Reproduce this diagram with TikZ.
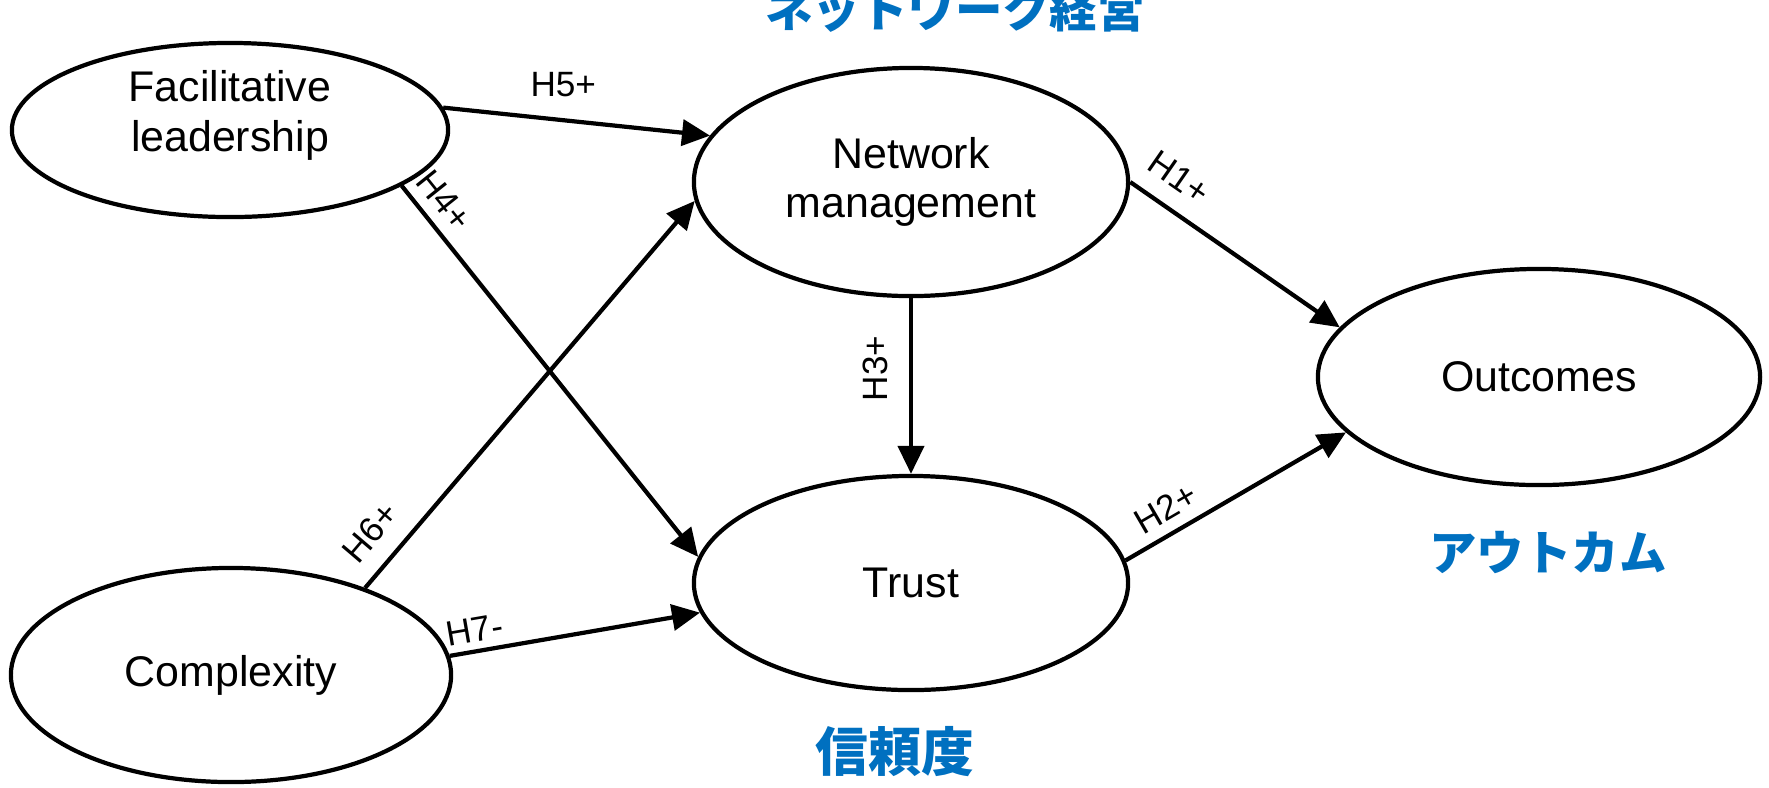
\documentclass[tikz,border=0pt]{standalone}
\usepackage{fontspec}
\setmainfont{Liberation Sans}
\newfontfamily\jpfont{Noto Sans CJK JP}
\usepackage{xcolor}
\usepackage{tikz}
\usetikzlibrary{shapes.geometric}
\usetikzlibrary{arrows.meta}
\definecolor{jpblue}{RGB}{0,112,192}
\tikzset{latent/.style={draw, ellipse, line width=1.2pt, align=center, inner sep=0pt, font=\fontsize{12.2}{14}\selectfont}}
\tikzset{hyp/.style={-{Triangle[length=0.28cm,width=0.26cm]}, line width=1.2pt}}
\tikzset{hlab/.style={font=\fontsize{10}{12}\selectfont, inner sep=3pt}}
\tikzset{jplab/.style={font=\jpfont\bfseries\fontsize{13.5}{16}\selectfont, text=jpblue}}

\begin{document}
\begin{tikzpicture}[x=0.01cm,y=-0.01cm]
\useasboundingbox (0,0) rectangle (1769,787);
% constructs
\node[latent, minimum width=4.36cm, minimum height=1.74cm, text height=14.5pt] (fl) at (230,130) {Facilitative\\leadership};
\node[latent, minimum width=4.34cm, minimum height=2.28cm] (nm) at (911,182) {Network\\management};
\node[latent, minimum width=4.42cm, minimum height=2.16cm] (out) at (1539,377) {Outcomes};
\node[latent, minimum width=4.34cm, minimum height=2.14cm] (trust) at (911,583) {Trust};
\node[latent, minimum width=4.40cm, minimum height=2.14cm] (cx) at (231,675) {Complexity};
% hypotheses
\draw[hyp] (fl.6) -- node[hlab, pos=0.45, above=3pt] {H5+} (nm.167.8);
\draw[hyp] (fl.-18.5) -- node[hlab, pos=0.08, sloped, above] {H4+} (trust.173.4);
\draw[hyp] (cx.33.4) -- node[hlab, pos=0.09, sloped, above=2pt] {H6+} (nm.185.3);
\draw[hyp] (cx.5.9) -- node[hlab, pos=0.114, sloped, above=-1pt] {H7-} (trust.188);
\draw[hyp] (nm.south) -- node[hlab, pos=0.4, anchor=south, rotate=90, inner sep=6pt] {H3+} (trust.north);
\draw[hyp] (nm.east) -- node[hlab, pos=0.15, sloped, above=2pt] {H1+} (out.166.5);
\draw[hyp] (trust.6.6) -- node[hlab, pos=0.24, sloped, above] {H2+} (out.196.3);
% japanese captions
\node[jplab] (jnm) at (955,10) {ネットワーク経営};
\node[jplab] (jout) at (1548,553) {アウトカム};
\node[jplab, font=\jpfont\bfseries\fontsize{15}{18}\selectfont] (jtrust) at (895,752) {信頼度};
\end{tikzpicture}
\end{document}
